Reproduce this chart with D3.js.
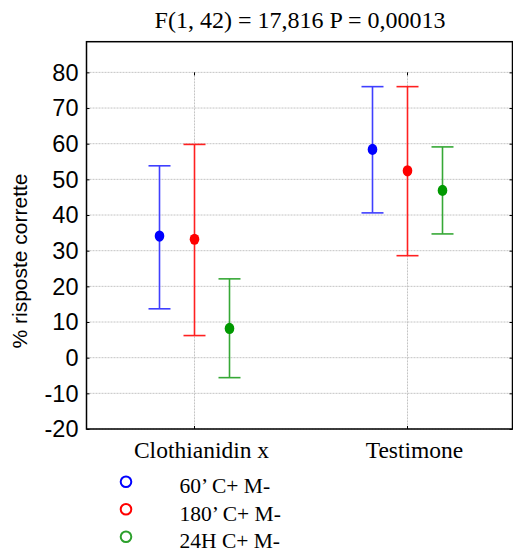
<!DOCTYPE html>
<html>
<head>
<meta charset="utf-8">
<script src="https://cdn.jsdelivr.net/npm/d3@7"></script>
<style>
  html, body { margin: 0; padding: 0; background: #fff; }
  svg { display: block; }
</style>
</head>
<body>
<svg id="chart" width="513" height="554"></svg>
<script>
// ---- data ----
const categories = ["Clothianidin x", "Testimone"];
const seriesNames = ["60\u2019 C+ M-", "180\u2019 C+ M-", "24H C+ M-"];
const means60  = [34.1, 58.4];
const lower60  = [13.7, 40.6];
const upper60  = [53.8, 76.0];
const means180 = [33.2, 52.4];
const lower180 = [6.2, 28.6];
const upper180 = [59.8, 76.0];
const means24  = [8.2, 46.9];
const lower24  = [-5.6, 34.7];
const upper24  = [22.1, 59.1];
const yTicks = [-20, -10, 0, 10, 20, 30, 40, 50, 60, 70, 80];
const titleText = "F(1, 42) = 17,816 P = 0,00013";
const yTitle = "% risposte corrette";

const seriesData = [
  { name: seriesNames[0], means: means60, lower: lower60, upper: upper60, line: "#3f3fff", dot: "#0000ff", legend: "#0000ff" },
  { name: seriesNames[1], means: means180, lower: lower180, upper: upper180, line: "#ff2020", dot: "#ff0000", legend: "#ff0000" },
  { name: seriesNames[2], means: means24, lower: lower24, upper: upper24, line: "#36a836", dot: "#009900", legend: "#2ca02c" }
];

const svg = d3.select("#chart");
const L = 86.5, R = 512.5, T = 41.7, B = 429;

const x = d3.scaleBand().domain(categories).range([88, 514]);
const off = d3.scalePoint().domain(seriesNames).range([-35, 35]);
const y = d3.scaleLinear().domain([-20, 88.6]).range([B, T]);

// grid
const grid = svg.append("g");
grid.selectAll("line.h").data(yTicks).join("line")
  .attr("x1", L).attr("x2", R)
  .attr("y1", d => y(d)).attr("y2", d => y(d))
  .attr("stroke", "#c4c4c4").attr("stroke-width", 1).attr("stroke-dasharray", "2,1");
grid.selectAll("line.v").data(categories).join("line")
  .attr("x1", d => x(d) + x.bandwidth() / 2).attr("x2", d => x(d) + x.bandwidth() / 2)
  .attr("y1", y(80)).attr("y2", B)
  .attr("stroke", "#c4c4c4").attr("stroke-width", 1).attr("stroke-dasharray", "2,1");

// frame
svg.append("rect").attr("x", L).attr("y", T).attr("width", R - L).attr("height", B - T)
  .attr("fill", "none").attr("stroke", "#000").attr("stroke-width", 1.5);

// y axis (left, inward ticks)
const yAxisL = d3.axisRight(y).tickValues(yTicks).tickSize(3).tickFormat("");
svg.append("g").attr("transform", `translate(${L},0)`).call(yAxisL)
  .call(g => g.select(".domain").remove())
  .call(g => g.selectAll("line").attr("stroke", "#000"));
const yAxisR = d3.axisLeft(y).tickValues(yTicks).tickSize(3).tickFormat("");
svg.append("g").attr("transform", `translate(${R},0)`).call(yAxisR)
  .call(g => g.select(".domain").remove())
  .call(g => g.selectAll("line").attr("stroke", "#000"));

// y labels
svg.append("g").selectAll("text").data(yTicks).join("text")
  .attr("x", 78.5).attr("y", d => y(d)).attr("dy", "0.36em")
  .attr("text-anchor", "end")
  .attr("font-family", "Liberation Sans, Arial, sans-serif").attr("font-size", 23.5)
  .attr("fill", "#000")
  .text(d => d);

// x axis ticks
const xAxis = d3.axisTop(x).tickSize(3).tickFormat("");
svg.append("g").attr("transform", `translate(0,${B})`).call(xAxis)
  .call(g => g.select(".domain").remove())
  .call(g => g.selectAll("line").attr("stroke", "#000"));
const xAxisTop = d3.axisBottom(x).tickSize(3).tickFormat("");
svg.append("g").attr("transform", `translate(0,${y(80)})`).call(xAxisTop)
  .call(g => g.select(".domain").remove())
  .call(g => g.selectAll("line").attr("stroke", "#000"));

// x labels
svg.append("g").selectAll("text").data(categories).join("text")
  .attr("x", d => x(d) + x.bandwidth() / 2 + 7).attr("y", 458)
  .attr("text-anchor", "middle")
  .attr("font-family", "Liberation Serif, Times New Roman, serif").attr("font-size", 23.5)
  .attr("fill", "#000")
  .text(d => d);

// error bars + means
const cap = 11;
seriesData.forEach(s => {
  const g = svg.append("g");
  categories.forEach((c, i) => {
    const cx = x(c) + x.bandwidth() / 2 + off(s.name);
    g.append("line").attr("x1", cx).attr("x2", cx)
      .attr("y1", y(s.lower[i])).attr("y2", y(s.upper[i]))
      .attr("stroke", s.line).attr("stroke-width", 1.6);
    [s.lower[i], s.upper[i]].forEach(v => {
      g.append("line").attr("x1", cx - cap).attr("x2", cx + cap)
        .attr("y1", y(v)).attr("y2", y(v))
        .attr("stroke", s.line).attr("stroke-width", 1.6);
    });
    g.append("ellipse").attr("cx", cx).attr("cy", y(s.means[i]))
      .attr("rx", 4.8).attr("ry", 5.6).attr("fill", s.dot);
  });
});

// title
svg.append("text").attr("x", 300).attr("y", 28)
  .attr("text-anchor", "middle")
  .attr("font-family", "Liberation Serif, Times New Roman, serif").attr("font-size", 24)
  .attr("fill", "#000").text(titleText);

// y title
svg.append("text")
  .attr("transform", "translate(27,261) rotate(-90)")
  .attr("text-anchor", "middle")
  .attr("font-family", "Liberation Sans, Arial, sans-serif").attr("font-size", 21)
  .attr("fill", "#000").text(yTitle);

// legend
const leg = svg.append("g");
const legY = [481.7, 509.2, 536.7];
seriesData.forEach((s, i) => {
  leg.append("circle").attr("cx", 126).attr("cy", legY[i]).attr("r", 5.3)
    .attr("fill", "none").attr("stroke", s.legend).attr("stroke-width", 2);
  leg.append("text").attr("x", 179.5).attr("y", legY[i] + 11.5)
    .attr("font-family", "Liberation Serif, Times New Roman, serif").attr("font-size", 21.5)
    .attr("fill", "#000").text(s.name);
});
</script>
</body>
</html>
